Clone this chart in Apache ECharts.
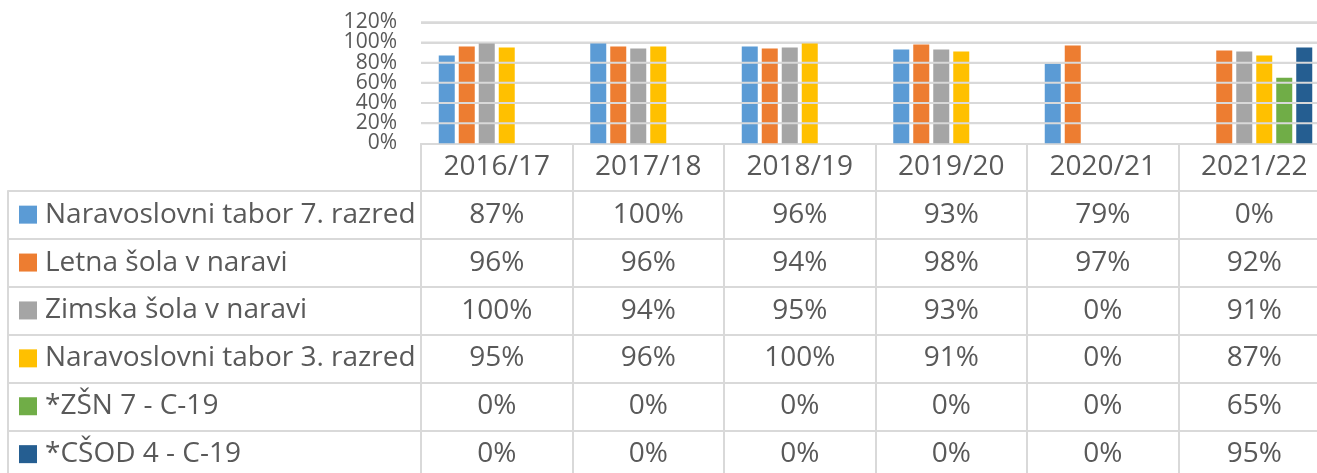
<!DOCTYPE html>
<html>
<head>
<meta charset="utf-8">
<script src="https://cdn.jsdelivr.net/npm/echarts@6/dist/echarts.min.js"></script>
<style>
  html, body { margin: 0; padding: 0; background: #fff; }
  #chart { width: 1317px; height: 473px; }
</style>
</head>
<body>
<div id="chart"></div>
<script>
// šolska leta
var years = ['2016/17', '2017/18', '2018/19', '2019/20', '2020/21', '2021/22'];

// imena programov
var names = [
  'Naravoslovni tabor 7. razred',
  'Letna šola v naravi',
  'Zimska šola v naravi',
  'Naravoslovni tabor 3. razred',
  '*ZŠN 7 - C-19',
  '*CŠOD 4 - C-19'
];

// deleži udeležbe (%)
var tabor7 = [87, 100, 96, 93, 79, 0];
var letna = [96, 96, 94, 98, 97, 92];
var zimska = [100, 94, 95, 93, 0, 91];
var tabor3 = [95, 96, 100, 91, 0, 87];
var zsn7 = [0, 0, 0, 0, 0, 65];
var csod4 = [0, 0, 0, 0, 0, 95];

var yTicks = [0, 20, 40, 60, 80, 100, 120];

var rows = [tabor7, letna, zimska, tabor3, zsn7, csod4];
var colors = ['#5B9BD5', '#ED7D31', '#A5A5A5', '#FFC000', '#70AD47', '#255E91'];

var font = 'Open Sans';
var textColor = '#595959';
var lineColor = '#D9D9D9';
var rowH = 47.9;
var headH = 47.5;

var chart = echarts.init(document.getElementById('chart'));

var xAxes = [];
// glavna os z leti
xAxes.push({
  type: 'category',
  gridIndex: 0,
  data: years,
  position: 'bottom',
  axisLine: { onZero: false, lineStyle: { color: lineColor, width: 2 } },
  axisTick: { show: true, interval: 0, length: headH, lineStyle: { color: lineColor, width: 2 } },
  axisLabel: { interval: 0, margin: 24, verticalAlign: 'middle', fontFamily: font, fontSize: 28, color: textColor }
});
// skrita os za mrežne črte čez celo širino
xAxes.push({ type: 'value', gridIndex: 0, min: 0, max: 1, show: false });
var gridAxisIndex = xAxes.length - 1;
// vrstice tabele
rows.forEach(function (vals, k) {
  xAxes.push({
    type: 'category',
    gridIndex: 0,
    data: years,
    position: 'bottom',
    offset: headH + rowH * k,
    axisLine: { onZero: false, lineStyle: { color: lineColor, width: 2 } },
    axisTick: { show: true, interval: 0, length: rowH, lineStyle: { color: lineColor, width: 2 } },
    axisLabel: {
      interval: 0, margin: 24, verticalAlign: 'middle',
      fontFamily: font, fontSize: 28, color: textColor,
      formatter: function (v, i) { return vals[i] + '%'; }
    }
  });
  // levi stolpec (legenda)
  xAxes.push({
    type: 'category',
    gridIndex: 1,
    data: [''],
    position: 'bottom',
    offset: headH + rowH * k,
    axisLine: { onZero: false, lineStyle: { color: lineColor, width: 2 } },
    axisTick: { show: true, interval: 0, length: rowH, lineStyle: { color: lineColor, width: 2 } },
    axisLabel: { show: false }
  });
});

var series = rows.map(function (vals, k) {
  return {
    name: names[k],
    type: 'bar',
    xAxisIndex: 0,
    yAxisIndex: 0,
    data: vals,
    barWidth: 16,
    barGap: '25%',
    clip: false,
    z: 10,
    itemStyle: { color: colors[k] }
  };
});
// vodoravna mreža
yTicks.slice(1).forEach(function (t) {
  series.push({
    name: 'mreža ' + t,
    type: 'line',
    xAxisIndex: gridAxisIndex,
    yAxisIndex: 0,
    data: [[0, t], [1, t]],
    symbol: 'none',
    silent: true,
    clip: false,
    z: 11,
    lineStyle: { color: lineColor, width: 2 }
  });
});

var option = {
  animation: false,
  color: colors,
  grid: [
    { left: 421, right: -13, top: 22.3, bottom: 329.7, outerBoundsMode: 'none' },
    { left: 8, width: 413, top: 22.3, bottom: 329.7, outerBoundsMode: 'none' }
  ],
  legend: {
    orient: 'vertical',
    left: 19,
    top: 199.65,
    padding: 0,
    itemGap: rowH - 30,
    itemWidth: 18,
    itemHeight: 18,
    icon: 'rect',
    selectedMode: false,
    data: names,
    formatter: function (n) { return '{n|' + n + '}'; },
    textStyle: {
      fontFamily: font, fontSize: 28, color: textColor, lineHeight: 30,
      rich: { n: { fontFamily: font, fontSize: 28, color: textColor, lineHeight: 30, padding: [0, 0, 0, 3] } }
    }
  },
  xAxis: xAxes,
  yAxis: [
    {
      // vrednostna os za stolpce
      type: 'value',
      gridIndex: 0,
      min: yTicks[0],
      max: yTicks[yTicks.length - 1],
      interval: yTicks[1] - yTicks[0],
      axisLine: { show: false },
      axisTick: { show: false },
      axisLabel: { show: false },
      splitLine: { show: false }
    },
    { type: 'value', gridIndex: 1, show: false },
    {
      // oznake osi y
      type: 'category',
      gridIndex: 0,
      position: 'left',
      boundaryGap: false,
      data: yTicks.map(function (t) { return t + '%'; }),
      axisLine: { show: false },
      axisTick: { show: false },
      splitLine: { show: true, interval: 0, lineStyle: { color: lineColor, width: 2 } },
      axisLabel: {
        interval: 0, margin: 24, fontFamily: font, fontSize: 21, lineHeight: 14, color: textColor,
        showMinLabel: true, showMaxLabel: true, hideOverlap: false
      }
    }
  ],
  series: series
};

chart.setOption(option);
</script>
</body>
</html>
